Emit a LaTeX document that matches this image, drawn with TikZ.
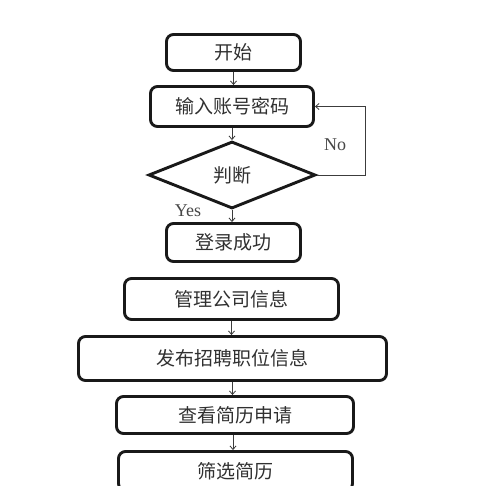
\documentclass[tikz,border=0pt]{standalone}
\usepackage{fontspec}
\setmainfont{Liberation Serif}
\newfontfamily\cjk{Noto Sans CJK SC}
\usetikzlibrary{shapes.geometric,arrows.meta}
\definecolor{ink}{RGB}{25,25,25}
\tikzset{
  box/.style={draw=ink, line width=2.9pt, rounded corners=7pt, inner sep=0pt,
    font=\cjk\fontsize{19pt}{22pt}\selectfont, text=ink!90},
  dia/.style={draw=ink, line width=2.9pt, diamond, inner sep=0pt,
    minimum width=167pt, minimum height=67pt,
    font=\cjk\fontsize{19pt}{22pt}\selectfont, text=ink!90},
  arr/.style={draw=ink!85, line width=0.8pt, -{Straight Barb[length=3.5pt,width=6pt]}},
  lab/.style={font=\fontsize{18pt}{20pt}\selectfont, text=ink!80, inner sep=0pt}
}
\begin{document}
\begin{tikzpicture}[x=1pt,y=-1pt]
\useasboundingbox (0,0) rectangle (500,485);
\node[box, minimum width=134pt, minimum height=36pt] (start) at (233.5,52.5) {开始};
\node[box, minimum width=163pt, minimum height=40pt] (in) at (232,106.5) {输入账号密码};
\node[dia] (d) at (232,175) {判断};
\node[box, minimum width=134pt, minimum height=38pt] (login) at (233.5,242.5) {登录成功};
\node[box, minimum width=214pt, minimum height=41pt] (mgmt) at (231.5,299) {管理公司信息};
\node[box, minimum width=308pt, minimum height=44pt] (pub) at (232.5,358.5) {发布招聘职位信息};
\node[box, minimum width=237pt, minimum height=37pt] (view) at (235,415) {查看简历申请};
\node[box, minimum width=234pt, minimum height=39pt] (filt) at (235.5,471) {筛选简历};
\coordinate (nr) at (365,175);
\node[lab] (no) at (335,145) {No};
\node[lab] (yes) at (188,211) {Yes};
\draw[arr] (start.south) -- (start.south |- in.north);
\draw[arr] (in.south) -- (in.south |- d.north);
\draw[arr] (d.south) -- (d.south |- login.north);
\draw[arr] (d.east) -- (nr) |- (in.east);
\draw[arr] (mgmt.south) -- (mgmt.south |- pub.north);
\draw[arr] (pub.south) -- (pub.south |- view.north);
\draw[arr] ([xshift=-2pt]view.south) -- ([xshift=-2pt]view.south |- filt.north);
\end{tikzpicture}
\end{document}
